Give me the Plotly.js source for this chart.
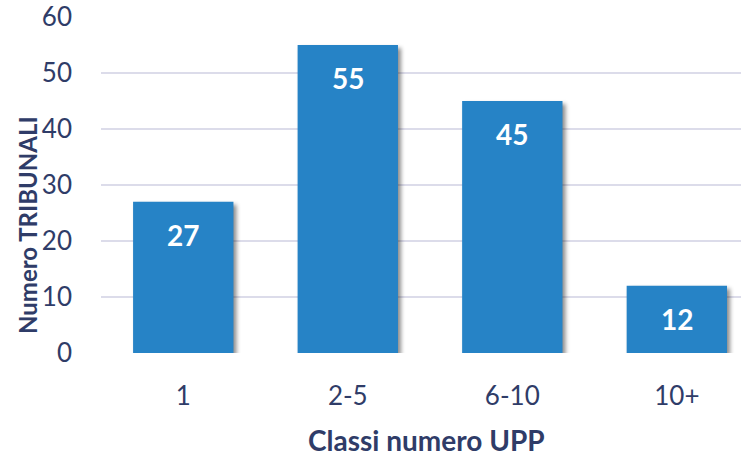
<!DOCTYPE html>
<html><head><meta charset="utf-8">
<script src="https://cdn.plot.ly/plotly-3.0.1.min.js"></script>
<style>
html,body{margin:0;padding:0;background:#fff;}
#chart .bars path{filter:drop-shadow(3px 3px 2px rgba(0,0,0,0.45));}
</style>
</head><body>
<div id="chart" style="width:741px;height:460px;"></div>
<script>
const categories = ["1", "2-5", "6-10", "10+"];
const values = [27, 55, 45, 12];
const yTicks = [0, 10, 20, 30, 40, 50, 60];

const navy = "#2f3c68";
const labelAnns = values.map((v, i) => ({
  x: i, y: v, xref: "x", yref: "y",
  text: "<b>" + v + "</b>", showarrow: false,
  yanchor: "middle", yshift: -33,
  font: {family: "Lato, 'Open Sans', sans-serif", size: 28, color: "#ffffff"}
}));

const data = [{
  type: "bar", x: categories, y: values, width: 0.61,
  marker: {color: "#2683c6", line: {width: 0}},
  hoverinfo: "none"
}];

const layout = {
  width: 741, height: 460,
  margin: {l: 101, r: 0, t: 17, b: 107},
  paper_bgcolor: "#ffffff", plot_bgcolor: "#ffffff",
  showlegend: false,
  font: {family: "Lato, 'Open Sans', sans-serif", color: navy},
  xaxis: {
    type: "category", range: [-0.5, 3.39],
    showgrid: false, zeroline: false, showline: false, ticks: "",
    tickfont: {size: 26, color: navy},
    ticklabelstandoff: 25
  },
  yaxis: {
    range: [0, 60], tickvals: yTicks, ticktext: yTicks.map(String),
    showgrid: true, gridcolor: "#dcdcea", gridwidth: 2,
    zeroline: false, showline: false, ticks: "",
    tickfont: {size: 26, color: navy},
    ticklabelstandoff: 28
  },
  annotations: labelAnns.concat([{
    text: "<b>Numero TRIBUNALI</b>", showarrow: false,
    xref: "paper", yref: "paper", x: 0, y: 0.5, xshift: -74, yshift: -40,
    textangle: -90, xanchor: "center", yanchor: "middle",
    font: {size: 24, color: navy}
  }, {
    text: "<b>Classi numero UPP</b>", showarrow: false,
    xref: "paper", yref: "paper", x: 0, y: 0, xshift: 325, yshift: -87,
    xanchor: "center", yanchor: "middle",
    font: {size: 28, color: navy}
  }])
};

Plotly.newPlot("chart", data, layout, {displayModeBar: false, staticPlot: true});
</script>
</body></html>
